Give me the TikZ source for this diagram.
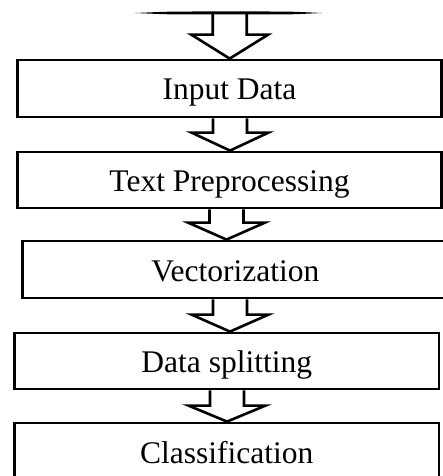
\documentclass[tikz,border=0pt]{standalone}
\usepackage{fontspec}
\setmainfont{Liberation Serif}
\usetikzlibrary{calc}

% block arrow from a start point down to a target point, at a given x
% #1 start (y taken), #2 target (y taken), #3 x of the arrow axis, #4 head length
\newcommand\blockarrow[4]{%
  \draw[flowarrow]
    ($(#3,0 |- #1)+(-17,0)$) --
    ($(#3,0 |- #2)+(-17,-#4)$) --
    ($(#3,0 |- #2)+(-38.5,-#4)$) --
    (#3,0 |- #2) --
    ($(#3,0 |- #2)+(38.5,-#4)$) --
    ($(#3,0 |- #2)+(17,-#4)$) --
    ($(#3,0 |- #1)+(17,0)$);}

\begin{document}
\begin{tikzpicture}[x=1pt,y=-1pt,
  stepbox/.style={draw=black, line width=2.8pt, inner sep=0pt, anchor=center,
    text height=28pt, text depth=5pt,
    font=\fontsize{31.5}{36}\selectfont},
  flowarrow/.style={draw=black, line width=2.6pt, line join=miter}]
  \useasboundingbox (0,0) rectangle (443,476);

  % source bar at the top, thick in the middle and tapering to its ends
  \fill[black] (135,13) .. controls (170,11.5) .. (200,11.5) -- (262,11.5)
    .. controls (290,11.5) .. (322,13) .. controls (290,14.5) .. (262,14.5)
    -- (200,14.5) .. controls (170,14.5) .. (135,13) -- cycle;
  \coordinate (src) at (229.7,13);

  \node[stepbox, minimum width=424pt, minimum height=57pt] (b1) at (229.5,88.5) {Input Data};
  \node[stepbox, minimum width=424pt, minimum height=56pt] (b2) at (229.5,180) {Text Preprocessing};
  \node[stepbox, minimum width=425.5pt, minimum height=57pt] (b3) at (235.25,269.5) {Vectorization};
  \node[stepbox, minimum width=424.5pt, minimum height=56pt] (b4) at (226.75,361) {Data splitting};
  \node[stepbox, minimum width=424.5pt, minimum height=57pt] (b5) at (226.75,451.5) {Classification};

  \blockarrow{src}{b1.north}{229.7}{24}
  \blockarrow{b1.south}{b2.north}{230}{18}
  \blockarrow{b2.south}{b3.north}{226.5}{17}
  \blockarrow{b3.south}{b4.north}{230}{17}
  \blockarrow{b4.south}{b5.north}{227}{16}
\end{tikzpicture}
\end{document}
